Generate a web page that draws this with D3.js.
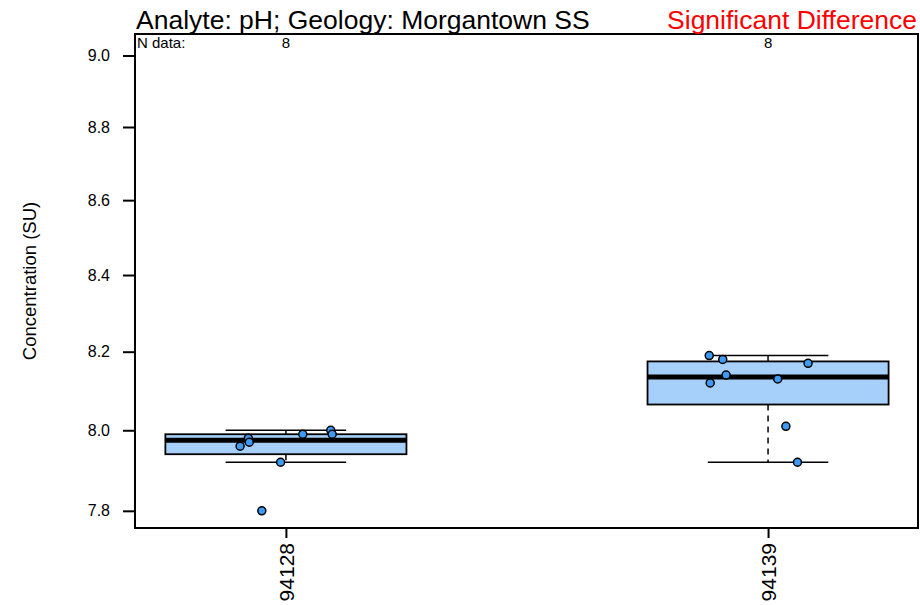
<!DOCTYPE html>
<html>
<head>
<meta charset="utf-8">
<script src="https://cdn.jsdelivr.net/npm/d3@7"></script>
<style>
  html, body { margin: 0; padding: 0; background: #fff; }
  svg { display: block; font-family: Arial, "Liberation Sans", Helvetica, sans-serif; }
</style>
</head>
<body>
<svg id="chart" width="920" height="605"></svg>
<script>
// Well IDs and measured pH values (SU)
const groups = ["94128", "94139"];
const values94128 = [7.99, 8.00, 7.99, 7.98, 7.97, 7.96, 7.92, 7.80];
const values94139 = [8.19, 8.18, 8.17, 8.14, 8.12, 8.13, 8.01, 7.92];
// horizontal jitter of each sample, in group units
const jitter94128 = [0.035, 0.093, 0.096, -0.078, -0.076, -0.095, -0.011, -0.050];
const jitter94139 = [-0.122, -0.094, 0.083, -0.087, -0.120, 0.020, 0.037, 0.061];
const yTicks = [7.8, 8.0, 8.2, 8.4, 8.6, 8.8, 9.0];
const yDomain = [7.758, 9.061];
const xDomain = [0.687, 2.311];

const titleText = "Analyte: pH; Geology: Morgantown SS";
const statusText = "Significant Difference";
const yLabel = "Concentration (SU)";

const series = [
  { name: groups[0], values: values94128, jitter: jitter94128 },
  { name: groups[1], values: values94139, jitter: jitter94139 }
];

const svg = d3.select("#chart");
const plot = { left: 135, right: 918, top: 34, bottom: 528 };

const x = d3.scaleLinear().domain(xDomain).range([plot.left, plot.right]);
const y = d3.scaleLog().domain(yDomain).range([plot.bottom, plot.top]);

// Tukey five-number summary with 1.5*IQR whiskers
function boxStats(vals) {
  const s = vals.slice().sort(d3.ascending);
  const n = s.length;
  const n4 = Math.floor((n + 3) / 2) / 2;
  const idx = [1, n4, (n + 1) / 2, n + 1 - n4, n];
  const fn = idx.map(i => 0.5 * (s[Math.floor(i) - 1] + s[Math.ceil(i) - 1]));
  const iqr = fn[3] - fn[1];
  const lo = d3.min(s.filter(v => v >= fn[1] - 1.5 * iqr));
  const hi = d3.max(s.filter(v => v <= fn[3] + 1.5 * iqr));
  return { q1: fn[1], med: fn[2], q3: fn[3], lo, hi };
}

const boxHalf = 0.25, stapleHalf = 0.125;

// boxes
series.forEach((d, i) => {
  const c = i + 1;
  const st = boxStats(d.values);
  const g = svg.append("g");
  // whiskers
  g.append("line").attr("x1", x(c)).attr("x2", x(c))
    .attr("y1", y(st.q3)).attr("y2", y(st.hi))
    .attr("stroke", "#000").attr("stroke-width", 1.5).attr("stroke-dasharray", "6,5");
  g.append("line").attr("x1", x(c)).attr("x2", x(c))
    .attr("y1", y(st.q1)).attr("y2", y(st.lo))
    .attr("stroke", "#000").attr("stroke-width", 1.5).attr("stroke-dasharray", "6,5");
  // staples
  [st.lo, st.hi].forEach(v => {
    g.append("line").attr("x1", x(c - stapleHalf)).attr("x2", x(c + stapleHalf))
      .attr("y1", y(v)).attr("y2", y(v))
      .attr("stroke", "#000").attr("stroke-width", 1.5);
  });
  // box
  g.append("rect")
    .attr("x", x(c - boxHalf)).attr("width", x(c + boxHalf) - x(c - boxHalf))
    .attr("y", y(st.q3)).attr("height", y(st.q1) - y(st.q3))
    .attr("fill", "#a6d0fa").attr("stroke", "#000").attr("stroke-width", 1.8);
  // median
  g.append("line").attr("x1", x(c - boxHalf)).attr("x2", x(c + boxHalf))
    .attr("y1", y(st.med)).attr("y2", y(st.med))
    .attr("stroke", "#000").attr("stroke-width", 5);
});

// sample points
series.forEach((d, i) => {
  const c = i + 1;
  svg.append("g").selectAll("circle")
    .data(d.values.map((v, k) => ({ v, j: d.jitter[k] })))
    .join("circle")
    .attr("cx", p => x(c + p.j))
    .attr("cy", p => y(p.v))
    .attr("r", 4)
    .attr("fill", "#3d9bf5")
    .attr("stroke", "#000")
    .attr("stroke-width", 1.5);
});

// plot frame
svg.append("rect")
  .attr("x", plot.left).attr("y", plot.top)
  .attr("width", plot.right - plot.left).attr("height", plot.bottom - plot.top)
  .attr("fill", "none").attr("stroke", "#000").attr("stroke-width", 2);

// y axis
const yAxis = svg.append("g")
  .attr("transform", `translate(${plot.left},0)`)
  .call(d3.axisLeft(y).tickValues(yTicks).tickFormat(d3.format(".1f")).tickSize(12).tickPadding(13));
yAxis.select(".domain").remove();
yAxis.selectAll(".tick line").attr("stroke", "#000").attr("stroke-width", 2);
yAxis.selectAll(".tick text").attr("font-size", 16).attr("font-family", "Arial, 'Liberation Sans', sans-serif").attr("fill", "#000");

// x axis with rotated labels
const xAxis = svg.append("g")
  .attr("transform", `translate(0,${plot.bottom})`)
  .call(d3.axisBottom(x).tickValues([1, 2]).tickFormat((d, i) => groups[i]).tickSize(10));
xAxis.select(".domain").remove();
xAxis.selectAll(".tick line").attr("stroke", "#000").attr("stroke-width", 2);
xAxis.selectAll(".tick text")
  .attr("font-size", 21).attr("font-family", "Arial, 'Liberation Sans', sans-serif").attr("fill", "#000")
  .attr("transform", "rotate(-90)")
  .attr("text-anchor", "end")
  .attr("x", -15).attr("y", 0).attr("dy", "0.36em");

// y axis title
svg.append("text")
  .attr("transform", `translate(36,${(plot.top + plot.bottom) / 2}) rotate(-90)`)
  .attr("text-anchor", "middle")
  .attr("font-size", 18.5)
  .text(yLabel);

// titles
svg.append("text").attr("x", 136).attr("y", 29)
  .attr("font-size", 26.5).text(titleText);
svg.append("text").attr("x", 917).attr("y", 29)
  .attr("font-size", 26.5).attr("text-anchor", "end").attr("fill", "#ff0000").text(statusText);

// sample counts
svg.append("text").attr("x", 137).attr("y", 48).attr("font-size", 15).text("N data:");
series.forEach((d, i) => {
  svg.append("text").attr("x", x(i + 1)).attr("y", 48)
    .attr("font-size", 15).attr("text-anchor", "middle").text(d.values.length);
});
</script>
</body>
</html>
